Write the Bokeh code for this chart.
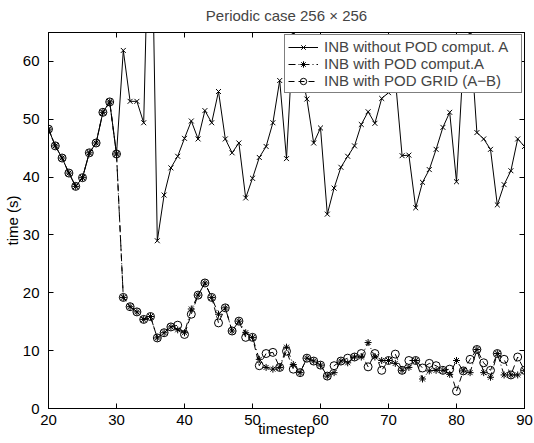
from bokeh.plotting import figure
from bokeh.models import (Legend, LegendItem, LinearAxis, SingleIntervalTicker, Range1d,
                          CustomJSTickFormatter)
from bokeh.embed import file_html
from bokeh.resources import INLINE

timesteps = list(range(20, 91))

# INB without POD comput. A
inb_without_pod = [
    48.3, 45.4, 43.3, 40.7, 38.4, 39.9, 44.2, 45.9, 51.2, 53.0,
    44.0, 61.9, 53.1, 53.1, 49.4, 98.0, 29.0, 36.9, 41.6, 43.6,
    46.7, 49.7, 46.6, 51.5, 49.4, 54.8, 46.6, 44.2, 45.9, 36.4,
    39.8, 43.4, 45.3, 49.4, 56.7, 43.2, 65.0, 59.0, 53.5, 45.9,
    48.5, 33.6, 38.1, 41.7, 43.6, 45.4, 49.1, 51.3, 49.3, 53.6,
    54.6, 57.0, 43.7, 43.8, 34.7, 39.1, 41.3, 44.8, 48.6, 51.2,
    39.2, 60.0, 65.0, 47.7, 46.6, 44.8, 35.2, 38.7, 41.1, 46.6,
    45.3,
]

# INB with POD comput.A
inb_with_pod = [
    48.3, 45.4, 43.3, 40.7, 38.4, 39.9, 44.2, 45.9, 51.2, 53.0,
    44.0, 19.2, 17.6, 16.7, 15.4, 15.9, 12.2, 13.1, 14.1, 13.6,
    13.1, 17.2, 19.6, 21.7, 19.2, 16.3, 17.4, 13.4, 15.1, 13.1,
    12.3, 8.5, 7.1, 6.8, 7.1, 10.6, 7.6, 6.2, 8.7, 8.2,
    7.5, 5.6, 6.2, 8.2, 7.9, 8.9, 8.9, 11.4, 8.9, 8.3,
    8.3, 7.8, 6.6, 7.1, 8.3, 5.1, 6.5, 6.6, 6.6, 5.9,
    8.3, 6.5, 6.2, 10.2, 6.2, 5.4, 9.5, 5.8, 5.8, 5.8,
    6.6,
]

# INB with POD GRID (A-B)
inb_pod_grid = [
    48.3, 45.4, 43.3, 40.7, 38.4, 39.9, 44.2, 45.9, 51.2, 53.0,
    44.0, 19.2, 17.6, 16.7, 15.4, 15.9, 12.2, 13.1, 14.1, 14.4,
    12.8, 16.3, 19.6, 21.7, 19.2, 14.8, 17.4, 13.4, 15.1, 12.3,
    12.3, 7.4, 9.5, 9.7, 7.1, 9.9, 6.8, 6.2, 8.7, 8.2,
    7.5, 5.6, 7.4, 8.2, 8.7, 8.9, 9.5, 7.2, 9.5, 6.6,
    8.3, 9.4, 6.6, 8.3, 8.3, 7.0, 7.8, 7.4, 6.6, 6.8,
    3.0, 6.5, 8.5, 10.2, 7.9, 6.6, 9.5, 8.5, 5.8, 8.9,
    6.6,
]

series_labels = ["INB without POD comput. A", "INB with POD comput.A", "INB with POD GRID (A\u2212B)"]
title_text = "Periodic case 256 \u00d7 256"
x_label = "timestep"
y_label = "time (s)"

FONT = "Liberation Sans"

p = figure(width=534, height=443, output_backend="svg", toolbar_location=None,
           x_range=Range1d(20, 90), y_range=Range1d(0, 65),
           min_border_left=46, min_border_right=10, min_border_top=32, min_border_bottom=35)

p.title.text = title_text
p.title.align = "center"
p.title.text_font = FONT
p.title.text_font_size = "15px"
p.title.text_font_style = "normal"
p.title.standoff = 9
p.title.offset = -6

p.grid.visible = False
p.outline_line_color = "black"
p.outline_line_width = 1
p.background_fill_color = "white"
p.border_fill_color = "white"

for ax in (p.xaxis[0], p.yaxis[0]):
    ax.ticker = SingleIntervalTicker(interval=10)
    ax.major_tick_in = 5
    ax.major_tick_out = 0
    ax.minor_tick_line_color = None
    ax.axis_line_color = "black"
    ax.major_label_text_font = FONT
    ax.major_label_text_font_size = "15px"
    ax.major_label_text_color = "black"
    ax.axis_label_text_font = FONT
    ax.axis_label_text_font_size = "15px"
    ax.axis_label_text_font_style = "normal"
    ax.axis_label_text_color = "black"

p.xaxis.axis_label = x_label
p.yaxis.axis_label = y_label
p.xaxis.major_label_standoff = 2
p.xaxis.axis_label_standoff = -8
p.yaxis.major_label_standoff = 5
p.yaxis.axis_label_standoff = -1

for loc in ("right", "above"):
    extra = LinearAxis(ticker=SingleIntervalTicker(interval=10),
                       formatter=CustomJSTickFormatter(code="return ''"),
                       major_label_text_font_size="0px", major_label_standoff=0,
                       major_tick_in=5, major_tick_out=0, minor_tick_line_color=None,
                       axis_line_color="black")
    p.add_layout(extra, loc)

l1 = p.line(timesteps, inb_without_pod, line_color="black", line_width=1)
m1 = p.scatter(timesteps, inb_without_pod, marker="x", size=7, line_color="black", line_width=1)

l2 = p.line(timesteps, inb_with_pod, line_color="black", line_width=1, line_dash="7 3 1 3")
m2 = p.scatter(timesteps, inb_with_pod, marker="asterisk", size=7, line_color="black", line_width=1)

l3 = p.line(timesteps, inb_pod_grid, line_color="black", line_width=1, line_dash="6 4")
m3 = p.scatter(timesteps, inb_pod_grid, marker="circle", size=8, line_color="black",
               fill_color=None, line_width=1)

legend = Legend(items=[
    LegendItem(label=series_labels[0], renderers=[l1, m1]),
    LegendItem(label=series_labels[1], renderers=[l2, m2]),
    LegendItem(label=series_labels[2], renderers=[l3, m3]),
], location="top_right")
legend.border_line_color = "black"
legend.border_line_width = 1
legend.background_fill_alpha = 1
legend.label_text_font = FONT
legend.label_text_font_size = "15px"
legend.glyph_width = 30
legend.glyph_height = 16
legend.label_height = 16
legend.label_width = 194
legend.spacing = 0
legend.padding = 3
legend.margin = 2
legend.label_standoff = 6
p.add_layout(legend)

open("out.html", "w").write(file_html(p, INLINE))
